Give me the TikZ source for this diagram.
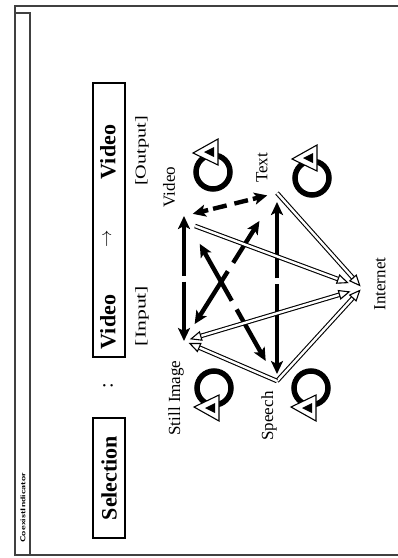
\documentclass[tikz,border=0pt]{standalone}
\usepackage{fontspec}
\setmainfont{Liberation Serif}
\usetikzlibrary{arrows.meta,calc}

\tikzset{
  tipb/.tip={Stealth[length=13pt,width=12pt,inset=3pt]},
  tipw/.tip={Triangle[open,length=12pt,width=10pt]},
  blk/.style={line width=4.4pt, -tipb},
  wht/.style={double=white, double distance=2.4pt, line width=1.1pt, -tipw},
  whtboth/.style={wht, tipw-tipw},
  lbl/.style={rotate=90, font=\fontsize{17}{17}\selectfont, inner sep=0pt},
  boxtxt/.style={rotate=90, font=\fontsize{22}{22}\selectfont\bfseries, inner sep=0pt},
  tag/.style={rotate=90, font=\fontsize{15}{15}\selectfont, inner sep=0pt},
  panel/.style={draw, line width=2.6pt, inner sep=0pt},
  frameline/.style={line width=1.2pt, draw=black!75},
  selfloop/.pic={
    \draw[line width=5.5pt] (0,0) circle[radius=17];
    \filldraw[fill=white, draw=black, line width=1.1pt] (-20,-19) -- (5,-33) -- (5,-7) -- cycle;
    \fill (-9,-20) -- (1,-25) -- (1,-15) -- cycle;
  }
}

\begin{document}
\begin{tikzpicture}[x=1pt,y=-1pt]
\useasboundingbox (0,0) rectangle (398,558);

% window frame
\draw[frameline] (398,6) -- (15,6) -- (15,555) -- (398,555);
\draw[frameline] (15,13) -- (30,13) -- (30,555);
\node[rotate=90, inner sep=0pt, font=\fontsize{7}{7}\selectfont\sffamily\bfseries] (title) at (23,508) {\scalebox{1.35}[1]{CoexistIndicator}};

% top row: mode selection
\node[panel, minimum width=32pt, minimum height=120pt] (selbox) at (109,478) {};
\node[boxtxt] (sel) at (selbox) {Selection};
\node[rotate=90, inner sep=0pt, font=\fontsize{20}{20}\selectfont] (colon) at (108,386) {:};
\node[panel, minimum width=32pt, minimum height=274pt] (vbox) at (109,220) {};
\node[boxtxt] (vin) at (108,322) {Video};
\node[rotate=90, inner sep=0pt, font=\fontsize{18}{18}\selectfont] (varr) at (108,239) {$\rightarrow$};
\node[boxtxt] (vout) at (108,152) {Video};
\node[tag] (tin) at (142,316) {\scalebox{1.45}[1]{[Input]}};
\node[tag] (tout) at (142,151) {\scalebox{1.35}[1]{[Output]}};

% media vertices
\coordinate (V) at (184,216);
\coordinate (S) at (184,341);
\coordinate (T) at (277,193);
\coordinate (P) at (277,381);
\coordinate (I) at (362,288);
\coordinate (Vw) at (195,226);

\node[lbl] (lV) at (169,187) {Video};
\node[lbl] (lS) at (176,398) {Still Image};
\node[lbl] (lT) at (262,168) {Text};
\node[lbl] (lP) at (269,416) {Speech};
\node[lbl] (lI) at (380,284) {Internet};

% self conversions
\pic at (213,172) {selfloop};
\pic at (312,178) {selfloop};
\pic[yscale=-1] at (214,388) {selfloop};
\pic[yscale=-1] at (311,388) {selfloop};

% conversions between media: each pair is a split double arrow
\coordinate (m1) at ($(V)!0.5!(S)$);
\coordinate (m2) at ($(T)!0.47!(P)$);
\coordinate (m3) at ($(V)!0.5!(T)$);
\coordinate (m4) at ($(S)!0.5!(T)$);
\coordinate (m5) at ($(V)!0.54!(P)$);
\draw[blk] ([yshift=3pt]m1) -- (V);
\draw[blk] ([yshift=-3pt]m1) -- (S);
\draw[blk, shorten >=9pt] ([yshift=3pt]m2) -- (T);
\draw[blk, shorten >=7pt] ([yshift=-3pt]m2) -- (P);
\draw[blk, dash pattern=on 14pt off 5pt, shorten >=9pt] ($(m3)!4pt!(V)$) -- (V);
\draw[blk, dash pattern=on 14pt off 5pt, shorten >=10pt] ($(m3)!4pt!(T)$) -- (T);
\draw[blk, shorten >=20pt] ($(m4)!5pt!(S)$) -- (S);
\draw[blk, shorten >=33pt] ($(m4)!5pt!(T)$) -- (T);
\draw[blk, shorten >=32pt] ($(m5)!5pt!(V)$) -- (V);
\draw[blk, shorten >=23pt] ($(m5)!5pt!(P)$) -- (P);

% conversions via the network
\draw[wht, shorten >=14pt] (Vw) -- (I);
\draw[wht, shorten >=2pt] (T) -- (I);
\draw[wht, shorten >=2pt] (P) -- (I);
\draw[whtboth, shorten <=6pt, shorten >=12pt] (S) -- (I);
\draw[wht, shorten >=5pt] (P) -- (S);
\end{tikzpicture}
\end{document}
